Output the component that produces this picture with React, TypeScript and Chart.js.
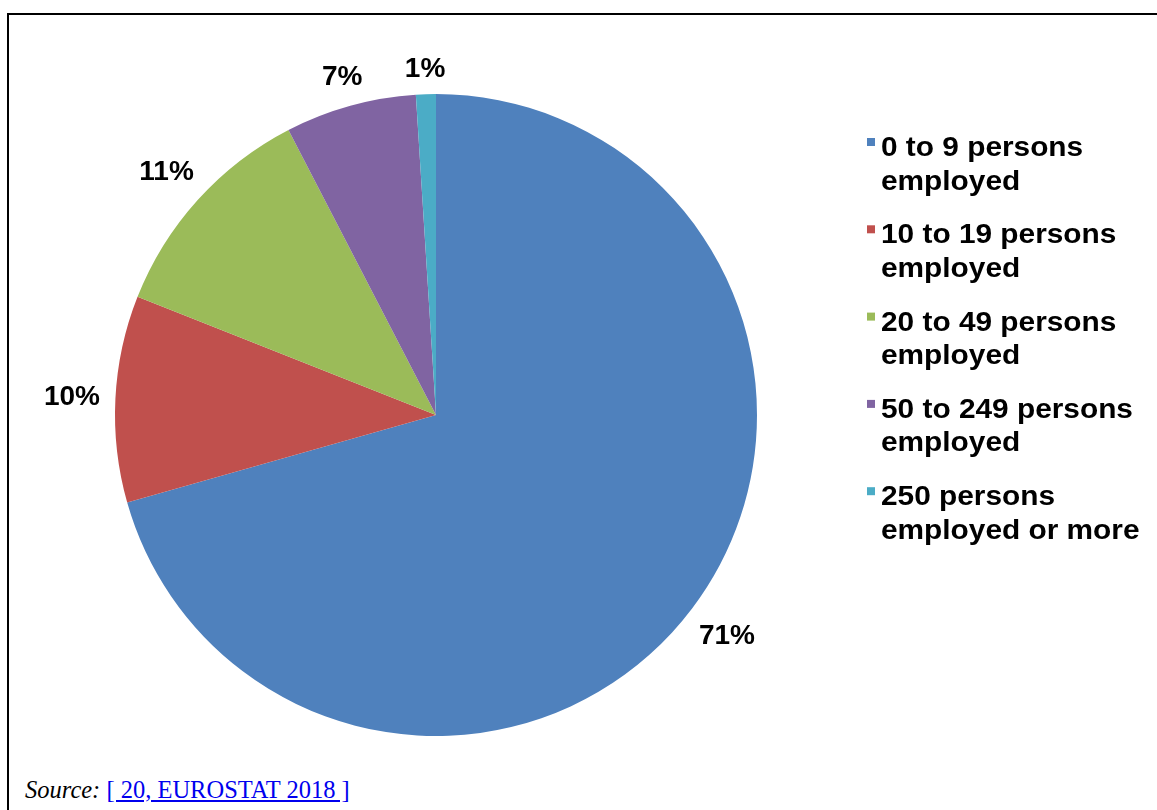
import React, { useEffect, useRef } from "react";
import { Chart, registerables } from "chart.js";

Chart.register(...registerables);

const categoryLines: string[][] = [
  ["0 to 9 persons", "employed"],
  ["10 to 19 persons", "employed"],
  ["20 to 49 persons", "employed"],
  ["50 to 249 persons", "employed"],
  ["250 persons", "employed or more"],
];
const categories: string[] = categoryLines.map((l) => l.join(" "));
const shares: number[] = [70.6, 10.4, 11.4, 6.6, 1.0];
const sliceColors: string[] = ["#4F81BD", "#C0504D", "#9BBB59", "#8064A2", "#4BACC6"];

const FONT = 'bold 28px "Liberation Sans", Arial, sans-serif';

const labelsPlugin = {
  id: "pieLabels",
  afterDraw(chart: any) {
    const ctx: CanvasRenderingContext2D = chart.ctx;
    const meta = chart.getDatasetMeta(0);
    const data: number[] = chart.data.datasets[0].data;
    const total = data.reduce((a: number, b: number) => a + b, 0);
    ctx.save();
    ctx.font = FONT;
    ctx.fillStyle = "#000";
    ctx.textAlign = "center";
    ctx.textBaseline = "middle";
    const gap = 15;
    const h = 21;
    meta.data.forEach((arc: any, i: number) => {
      const p = arc.getProps(["x", "y", "startAngle", "endAngle", "outerRadius"], true);
      const mid = (p.startAngle + p.endAngle) / 2;
      const dx = Math.cos(mid);
      const dy = Math.sin(mid);
      const txt = Math.round((data[i] / total) * 100) + "%";
      const w = ctx.measureText(txt).width;
      const d = p.outerRadius + gap + Math.abs(dx) * w / 2 + Math.abs(dy) * h / 2;
      ctx.fillText(txt, p.x + dx * d, p.y + dy * d + 1);
    });

    // legend
    ctx.textAlign = "left";
    ctx.textBaseline = "alphabetic";
    const legendX = 867;
    const textX = 881;
    const firstBaseline = 156;
    const itemStep = 87.3;
    const lineStep = 33.5;
    const stretch = 1.065;
    categoryLines.forEach((lines, i) => {
      const base = firstBaseline + i * itemStep;
      ctx.fillStyle = sliceColors[i];
      ctx.fillRect(legendX, base - 18, 8, 8);
      ctx.fillStyle = "#000";
      lines.forEach((ln, j) => {
        ctx.save();
        ctx.translate(textX, base + j * lineStep);
        ctx.scale(stretch, 1);
        ctx.fillText(ln, 0, 0);
        ctx.restore();
      });
    });
    ctx.restore();
  },
};

export default function App() {
  const ref = useRef<HTMLCanvasElement | null>(null);
  useEffect(() => {
    if (!ref.current) return;
    const chart = new Chart(ref.current, {
      type: "pie",
      data: {
        labels: categories,
        datasets: [
          {
            data: shares,
            backgroundColor: sliceColors,
            borderWidth: 0,
          },
        ],
      },
      options: {
        responsive: false,
        animation: false,
        devicePixelRatio: 1,
        layout: { padding: { left: 115, top: 94, right: 400, bottom: 34 } },
        plugins: {
          legend: { display: false },
          tooltip: { enabled: false },
        },
      },
      plugins: [labelsPlugin],
    });
    return () => chart.destroy();
  }, []);

  return (
    <div
      style={{
        position: "fixed",
        left: 0,
        top: 0,
        width: 1157,
        height: 810,
        overflow: "hidden",
        background: "#fff",
      }}
    >
      <div
        style={{
          position: "absolute",
          left: 7,
          top: 13,
          width: 1300,
          height: 900,
          borderTop: "2px solid #000",
          borderLeft: "2px solid #000",
        }}
      />
      <canvas
        ref={ref}
        width={1157}
        height={770}
        style={{ position: "absolute", left: 0, top: 0, width: 1157, height: 770 }}
      />
      <div
        style={{
          position: "absolute",
          left: 25,
          top: 778,
          font: '24.5px "Liberation Serif", "Times New Roman", serif',
          lineHeight: "24px",
          whiteSpace: "nowrap",
          color: "#000",
        }}
      >
        <i>Source:</i>{" "}
        <a href="#" style={{ color: "#0000EE", textDecoration: "underline" }}>
          [ 20, EUROSTAT 2018 ]
        </a>
      </div>
    </div>
  );
}
